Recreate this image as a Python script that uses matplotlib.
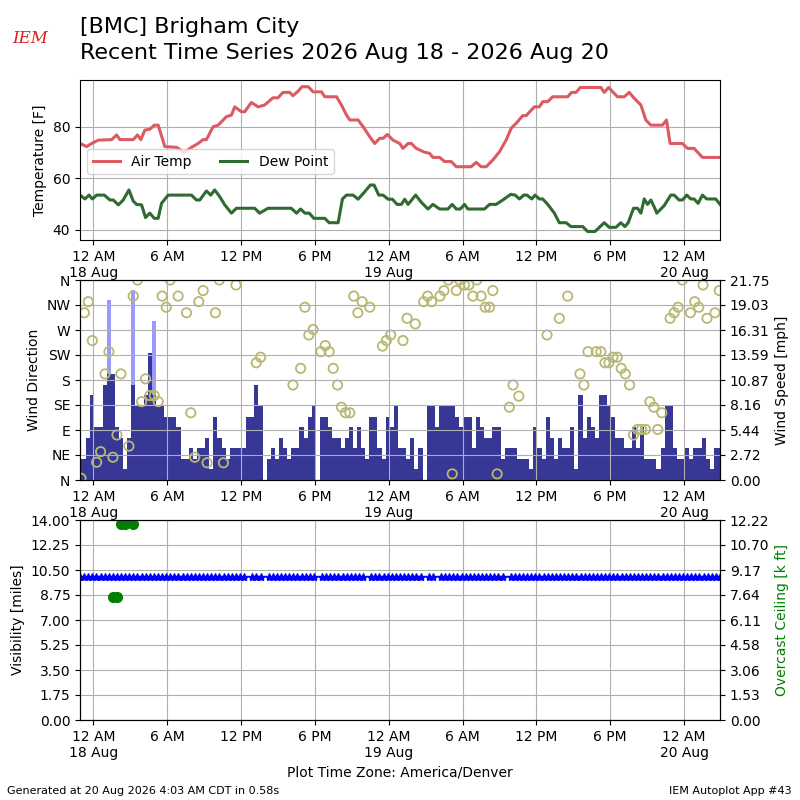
import datetime
import numpy as np
import matplotlib
matplotlib.use('Agg')
import matplotlib.pyplot as plt
import matplotlib.dates as mdates
from matplotlib.ticker import FixedLocator, FuncFormatter

BASE = datetime.datetime(2026, 8, 18, 0, 0)

# temperature traces, hours after 12 AM 18 Aug (local) and deg F
temp_hours = [-1.08, -0.54, -0.14, 0.41, 1.49, 1.89, 2.16, 3.24, 3.59, 3.86, 4.19, 4.59, 4.95, 5.27,
              5.81, 6.76, 7.38, 7.97, 8.51, 8.92, 9.19, 9.73, 10.14, 10.81, 11.22, 11.49, 12.03,
              12.30, 12.84, 13.38, 13.92, 14.59, 15.0, 15.41, 15.95, 16.22, 16.65, 16.95, 17.46,
              17.86, 18.54, 18.81, 19.76, 20.16, 20.57, 20.84, 21.51, 21.92, 22.46, 22.86, 23.27,
              23.54, 23.89, 24.35, 24.89, 25.16, 25.57, 25.84, 26.24, 26.92, 27.32, 27.59, 28.14,
              28.54, 29.08, 29.49, 30.70, 31.11, 31.51, 31.92, 32.46, 33.0, 33.54, 33.95, 34.35,
              34.89, 35.16, 35.84, 36.24, 36.51, 36.92, 37.32, 38.54, 38.86, 39.22, 39.57, 41.24,
              41.51, 41.86, 42.59, 43.14, 43.54, 43.95, 44.49, 44.89, 45.3, 46.24, 46.57, 46.86,
              47.86, 48.27, 48.81, 49.49, 50.92]
temp_f = [73.5, 72.3, 73.5, 74.8, 75.0, 76.8, 75.0, 75.0, 76.8, 75.0, 78.7, 79.0, 80.6, 80.6,
          72.3, 72.0, 70.0, 72.0, 73.5, 75.0, 75.0, 80.0, 80.6, 83.9, 84.5, 87.7, 85.8,
          85.8, 89.4, 87.7, 88.4, 91.2, 91.2, 93.3, 93.3, 92.0, 93.8, 95.5, 95.5,
          93.5, 93.5, 91.6, 91.6, 88.4, 84.5, 82.6, 82.6, 80.0, 76.1, 73.5, 75.5,
          75.5, 77.0, 74.8, 73.5, 71.6, 73.5, 73.5, 71.6, 70.1, 69.7, 68.1, 68.1,
          66.5, 66.5, 64.5, 64.5, 66.2, 64.5, 64.5, 67.1, 70.3, 74.8, 79.4, 81.3,
          84.3, 84.3, 87.7, 87.7, 89.7, 89.7, 91.6, 91.6, 93.3, 93.3, 95.2, 95.2,
          93.3, 95.2, 91.6, 91.6, 93.3, 91.0, 88.4, 82.6, 80.6, 80.6, 82.6, 73.5,
          73.5, 71.6, 71.6, 68.1, 68.1]

dwpt_hours = [-1.08, -0.68, -0.35, -0.08, 0.27, 0.89, 1.35, 1.62, 2.03, 2.43, 2.89, 3.24, 3.51,
              3.92, 4.24, 4.59, 4.95, 5.27, 5.54, 6.08, 7.97, 8.38, 8.65, 9.19, 9.54, 9.86, 10.27,
              10.68, 11.22, 11.62, 13.11, 13.51, 14.19, 16.08, 16.51, 16.84, 17.19, 17.54, 17.92,
              18.81, 19.16, 19.89, 20.24, 20.57, 21.11, 21.51, 22.05, 22.51, 22.81, 23.19, 23.54,
              23.95, 24.3, 24.68, 25.03, 25.3, 25.57, 26.19, 26.65, 27.19, 27.59, 28.14, 28.81,
              29.16, 29.49, 29.81, 30.16, 30.43, 31.78, 32.19, 32.73, 33.27, 33.92, 34.27, 34.62,
              34.97, 35.24, 35.62, 35.89, 36.24, 36.51, 36.92, 37.46, 37.86, 38.41, 38.81, 39.76,
              40.16, 40.76, 41.51, 41.92, 42.46, 42.86, 43.19, 43.46, 43.89, 44.22, 44.49, 44.76,
              45.03, 45.3, 45.62, 45.78, 46.38, 46.92, 47.19, 47.59, 47.86, 48.22, 48.54, 48.81,
              49.14, 49.49, 49.84, 50.57, 50.92]
dwpt_f = [53.5, 52.0, 53.5, 52.0, 53.5, 53.5, 51.6, 51.6, 49.7, 51.6, 55.5, 51.2, 49.9,
          49.7, 44.8, 46.5, 44.5, 44.5, 50.3, 53.5, 53.5, 51.6, 51.6, 55.1, 53.5, 55.5, 52.9,
          49.7, 46.5, 48.4, 48.4, 46.5, 48.4, 48.4, 46.5, 48.1, 46.5, 46.5, 44.5,
          44.5, 42.8, 42.8, 52.0, 53.5, 53.5, 51.9, 54.8, 57.4, 57.4, 53.5, 53.5,
          51.9, 51.9, 49.9, 49.9, 51.9, 49.9, 53.5, 50.7, 48.1, 49.9, 48.1, 48.1,
          49.9, 48.1, 48.1, 49.9, 48.1, 48.1, 49.9, 49.9, 51.6, 53.8, 53.5, 52.0,
          53.5, 53.5, 52.0, 53.5, 52.0, 52.0, 49.9, 46.5, 42.8, 42.8, 41.3, 41.3,
          39.4, 39.4, 42.8, 41.0, 41.0, 42.8, 41.3, 42.8, 48.4, 48.4, 46.5, 52.0,
          49.9, 51.6, 48.4, 46.5, 49.4, 53.5, 53.5, 51.6, 51.6, 53.5, 52.0, 52.0,
          50.3, 53.5, 52.0, 52.0, 49.9]

# 20 minute observations, first one at 10:55 PM 17 Aug
obs_start_hour = -1 - 5 / 60.
speed_kt = [2, 2, 4, 8, 5, 5, 9, 10, 10, 5, 4, 1, 4, 9, 7, 7, 8, 12, 8, 7,
            7, 6, 6, 6, 5, 2, 2, 3, 2, 3, 3, 4, 1, 6, 4, 3, 2, 3, 3, 3,
            3, 6, 6, 9, 7, np.nan, 2, 3, 2, 4, 3, 2, 3, 3, 5, 4, 6, 7, np.nan, 6,
            6, 5, 4, 4, 3, 4, 5, 3, 5, 3, 2, 6, 6, 3, 2, 6, 5, 7, 3, 3,
            2, 4, 1, 3, np.nan, 7, 7, 5, 7, 7, 7, 7, 6, 5, 6, 6, 3, 6, 5, 4,
            4, 5, 5, 2, 3, 3, 3, 2, 2, 2, 1, 5, 3, 2, 6, 4, 2, 4, 3, 3,
            5, 1, 8, 4, 6, 5, 4, 8, 8, 7, 6, 4, 4, 3, 3, 5, 3, 5, 2, 2,
            2, 1, 3, 7, 7, 3, 2, 2, 3, 2, 3, 3, 4, 2, 1, 3, 3]
gust_obs = [7, 13, 18]
gust_kt = [17, 18, 15]

dir_hours = [-1.0, -0.73, -0.41, -0.08, 0.27, 0.59, 0.95, 1.27, 1.59, 1.92, 2.24, 2.89, 3.24,
             3.59, 3.92, 4.24, 4.59, 4.95, 5.27, 5.59, 5.92, 6.24, 6.89, 7.57, 7.92, 8.24, 8.57,
             8.92, 9.24, 9.92, 10.24, 10.57, 11.59, 13.24, 13.59, 16.22, 16.84, 17.19, 17.51,
             17.86, 18.49, 18.84, 19.16, 19.49, 19.84, 20.16, 20.49, 20.84, 21.16, 21.49, 21.84,
             22.46, 23.49, 23.81, 24.16, 25.16, 25.49, 26.16, 26.84, 27.16, 27.49, 28.16, 28.49,
             28.84, 29.16, 29.49, 29.76, 30.16, 30.51, 30.84, 31.16, 31.51, 31.84, 32.19, 32.46,
             32.81, 33.8, 34.1, 34.57, 36.86, 37.86, 38.54, 39.54, 39.86, 40.19, 40.86, 41.24,
             41.57, 41.89, 42.22, 42.57, 42.89, 43.22, 43.57, 43.89, 44.22, 44.54, 44.86, 45.22,
             45.54, 45.86, 46.19, 46.86, 47.19, 47.51, 47.86, 48.51, 48.86, 49.19, 49.54, 49.86,
             50.51, 50.86]
dir_deg = [3, 301, 321, 251, 32, 51, 191, 231, 41, 81, 191, 61, 331,
           360, 141, 182, 152, 152, 141, 331, 311, 360, 331, 301, 121, 41, 321,
           341, 31, 301, 360, 31, 351, 211, 221, 171, 201, 311, 261,
           271, 231, 242, 231, 201, 171, 131, 121, 121, 331, 301, 321,
           311, 241, 251, 261, 251, 291, 281, 321, 331, 321, 331, 341,
           360, 11, 341, 360, 351, 351, 331, 360, 331, 311, 311, 341,
           11, 131, 171, 151, 261, 291, 331, 191, 171, 231, 231, 231,
           211, 211, 221, 221, 201, 191, 171, 81, 91, 91, 91, 141,
           131, 91, 121, 291, 301, 311, 360, 301, 321, 311, 351, 291,
           301, 341]

vis_miles = 10.0
vis_missing_obs = [41, 45, 58, 70, 84, 87, 104]
ceil_obs = [8, 9, 10, 11, 13]
ceil_kft = [7.5, 7.5, 12.0, 12.0, 12.0]


def to_num(hours):
    return mdates.date2num([BASE + datetime.timedelta(hours=float(h)) for h in hours])


obs_hours = obs_start_hour + np.arange(len(speed_kt)) / 3.
obs_x = to_num(obs_hours)
speed_mph = np.array(speed_kt, dtype=float) * 1.15078
gust_mph = np.array(gust_kt) * 1.15078
vis = np.full(len(speed_kt), vis_miles)
vis[vis_missing_obs] = np.nan

xlim = (obs_x[0], obs_x[-1])
ticks = to_num(np.arange(0, 49, 6))


def tick_fmt(x, pos):
    h = int(round((x - mdates.date2num(BASE)) * 24))
    d = BASE + datetime.timedelta(hours=h)
    lab = d.strftime('%I %p').lstrip('0')
    if d.hour == 0:
        lab += '\n' + d.strftime('%d %b')
    return lab


def set_time_axis(ax):
    ax.set_xlim(*xlim)
    ax.xaxis.set_major_locator(FixedLocator(ticks))
    ax.xaxis.set_major_formatter(FuncFormatter(tick_fmt))


def two_dec(ax, top):
    vals = np.linspace(0, top, 9)
    ax.set_ylim(0, top)
    ax.set_yticks(vals)
    ax.set_yticklabels(['%.2f' % v for v in vals])


fig = plt.figure(figsize=(8, 8), dpi=100)
fig.text(0.1, 0.979, '[BMC] Brigham City\nRecent Time Series 2026 Aug 18 - 2026 Aug 20',
         fontsize=16, va='top', ha='left', linespacing=1.4)
fig.text(0.0375, 0.952, 'IEM', color='#d92020', fontsize=12, fontstyle='italic',
         family='DejaVu Serif', ha='center', va='center')
fig.text(0.009, 0.008, 'Generated at 20 Aug 2026 4:03 AM CDT in 0.58s', fontsize=8)
fig.text(0.99, 0.008, 'IEM Autoplot App #43', fontsize=8, ha='right')

# temperatures
ax1 = fig.add_axes([0.1, 0.7, 0.8, 0.2])
ax1.plot(to_num(temp_hours), temp_f, color='#dc5a62', lw=2.2, label='Air Temp')
ax1.plot(to_num(dwpt_hours), dwpt_f, color='#2f6a30', lw=2.2, label='Dew Point')
ax1.set_ylim(36.1, 98.1)
ax1.set_yticks([40, 60, 80])
ax1.set_ylabel('Temperature [F]')
ax1.grid(True)
set_time_axis(ax1)
ax1.legend(loc='center left', bbox_to_anchor=(0.0, 0.49), ncol=2)

# wind
ax2 = fig.add_axes([0.1, 0.4, 0.8, 0.25])
ax2b = ax2.twinx()
ax2b.bar(obs_x[gust_obs], gust_mph, width=1 / 72., color='#9999ff')
ax2b.bar(obs_x, speed_mph, width=1 / 72., color='#373796')
two_dec(ax2b, gust_mph.max() * 1.05)
ax2b.set_ylabel('Wind Speed [mph]')
ax2.set_zorder(ax2b.get_zorder() + 1)
ax2.patch.set_visible(False)
ax2.scatter(to_num(dir_hours), dir_deg, s=45, facecolors='none', edgecolors='#b8b872', lw=1.3)
ax2.set_ylim(0, 360)
ax2.set_yticks(range(0, 361, 45))
ax2.set_yticklabels(['N', 'NE', 'E', 'SE', 'S', 'SW', 'W', 'NW', 'N'])
ax2.set_ylabel('Wind Direction')
ax2.grid(True)
set_time_axis(ax2)
set_time_axis(ax2b)

# visibility / ceiling
ax3 = fig.add_axes([0.1, 0.1, 0.8, 0.25])
ax3.plot(obs_x, vis, color='b', marker='*', ms=6, lw=1.5)
two_dec(ax3, 14)
ax3.set_ylabel('Visibility [miles]')
ax3.grid(True)
set_time_axis(ax3)
ax3.set_xlabel('Plot Time Zone: America/Denver')
ax3b = ax3.twinx()
ax3b.plot(obs_x[ceil_obs], ceil_kft, 'o', color='g', ms=7)
two_dec(ax3b, 12.224)
ax3b.set_ylabel('Overcast Ceiling [k ft]', color='g')
set_time_axis(ax3b)

fig.savefig('out.png', dpi=100)
